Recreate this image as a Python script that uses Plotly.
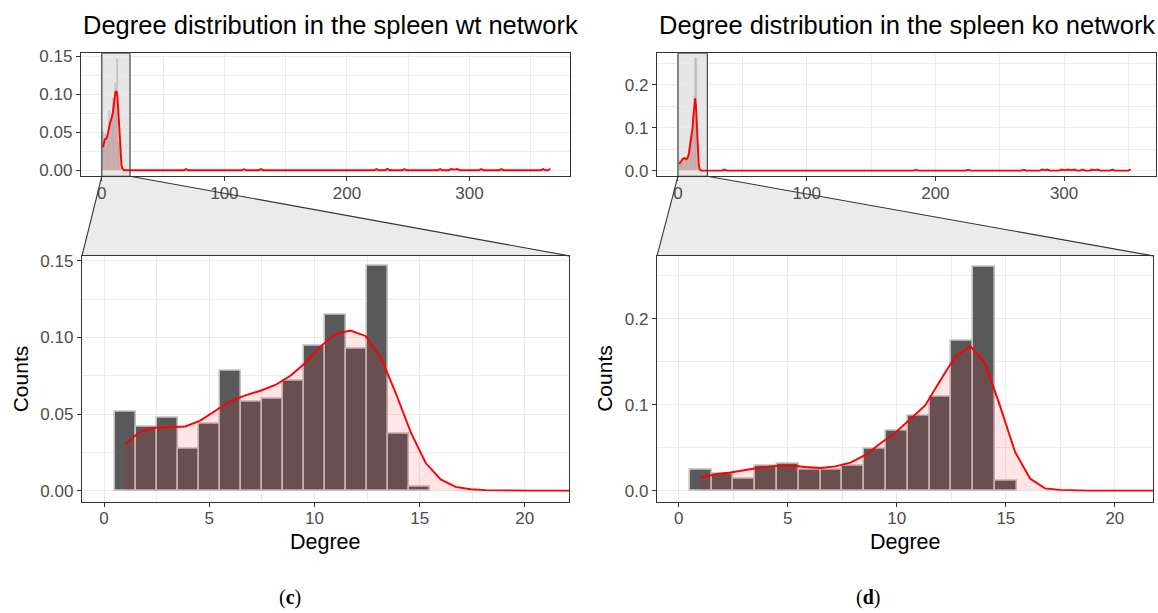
import plotly.graph_objects as go

W, H = 1158, 613

# ---------------- data ----------------
degree = list(range(1, 16))
wt_counts = [0.0515, 0.0415, 0.0474, 0.0270, 0.0434, 0.0780, 0.0579, 0.0596,
             0.0718, 0.0944, 0.1150, 0.0925, 0.1466, 0.0368, 0.0024]
ko_counts = [0.0244, 0.0190, 0.0141, 0.0286, 0.0313, 0.0237, 0.0237, 0.0286,
             0.0490, 0.0695, 0.0866, 0.1088, 0.1737, 0.2603, 0.0115]

wt_dens_x = [1.00, 1.71, 2.43, 3.14, 3.86, 4.57, 5.29, 6.00, 6.71, 7.43, 8.14, 8.86,
             9.57, 10.29, 11.00, 11.71, 12.43, 13.14, 13.86, 14.57, 15.29, 16.00,
             16.71, 17.43, 18.14, 18.86, 19.57, 20.29, 21.00, 21.71, 22.43]
wt_dens_y = [0.0303, 0.0385, 0.0410, 0.0413, 0.0419, 0.0457, 0.0520, 0.0585, 0.0622,
             0.0652, 0.0690, 0.0750, 0.0835, 0.0942, 0.1024, 0.1045, 0.1010, 0.0874,
             0.0639, 0.0383, 0.0180, 0.0073, 0.0024, 0.0009, 0.0003, 0.0001, 0.0,
             0.0, 0.0, 0.0, 0.0]
wt_tail_x = [66.7, 68.7, 70.7, 114, 116, 118, 127.7, 129.7, 131.7, 222, 224, 226,
             231, 233, 235, 245, 247, 249, 274, 276, 278, 283, 285, 287.5, 290, 292,
             307.5, 309.5, 311.5, 324, 326, 328, 358, 360, 362, 364, 366]
wt_tail_y = [0, 0.0016, 0, 0, 0.0014, 0, 0, 0.0016, 0, 0, 0.0016, 0,
             0, 0.0018, 0, 0, 0.0016, 0, 0, 0.0016, 0, 0, 0.0016, 0.0008, 0.0016, 0,
             0, 0.0016, 0, 0, 0.0016, 0, 0, 0.0016, 0, 0, 0.0020]

ko_dens_x = [1.00, 1.69, 2.37, 3.06, 3.75, 4.43, 5.12, 5.81, 6.50, 7.18, 7.87, 8.56,
             9.24, 9.93, 10.62, 11.30, 11.99, 12.68, 13.36, 14.05, 14.74, 15.43,
             16.11, 16.80, 17.49, 18.17, 18.86, 19.55, 20.24, 20.92, 21.61, 22.30]
ko_dens_y = [0.0152, 0.0190, 0.0210, 0.0240, 0.0268, 0.0288, 0.0292, 0.0275, 0.0263,
             0.0282, 0.0325, 0.0415, 0.0548, 0.0672, 0.0830, 0.0990, 0.1280, 0.1560,
             0.1683, 0.1480, 0.0980, 0.0446, 0.0141, 0.0026, 0.0008, 0.0002, 0.0,
             0.0, 0.0, 0.0, 0.0, 0.0]
ko_tail_x = [34, 36, 38, 183, 185, 187, 223.5, 225.5, 227.5, 266.6, 268.6, 270.6,
             281, 283, 285, 287, 289, 296, 298, 300.5, 303, 305.5, 308, 310,
             312.5, 314.5, 316.5, 319.7, 321.7, 323.7, 326, 328, 335.5, 337.5, 339.5,
             349.8, 351.8]
ko_tail_y = [0, 0.0025, 0, 0, 0.0022, 0, 0, 0.0022, 0, 0, 0.0022, 0,
             0, 0.0025, 0.0012, 0.0025, 0, 0, 0.0025, 0.0012, 0.0025, 0.0012, 0.0025, 0,
             0, 0.0025, 0, 0, 0.0025, 0.0012, 0.0025, 0, 0, 0.0025, 0,
             0, 0.0030]

titles = ["Degree distribution in the spleen wt network",
          "Degree distribution in the spleen ko network"]
top_x_ticks = [0, 100, 200, 300]
bottom_x_ticks = [0, 5, 10, 15, 20]
wt_y_ticks = [0.00, 0.05, 0.10, 0.15]
ko_y_ticks = [0.0, 0.1, 0.2]

# ---------------- layout geometry (pixels) ----------------
boxes = {
    "tl": (81, 570, 48, 173),
    "bl": (82, 569, 254, 504),
    "tr": (657, 1156, 48, 173),
    "br": (657, 1153, 254, 504),
}
ranges_x = {"tl": [-17, 382], "bl": [-1.05, 22.1], "tr": [-16.3, 371.4], "br": [-1.0, 21.75]}
ranges_y = {"tl": [-0.0078, 0.154], "bl": [-0.0073, 0.1533],
            "tr": [-0.013, 0.273], "br": [-0.013, 0.273]}
zoom_x = {"tl": [0, 23], "tr": [0, 22.8]}


def xdom(b):
    l, r, t, bo = boxes[b]
    return [l / W, r / W]


def ydom(b):
    l, r, t, bo = boxes[b]
    return [1 - bo / H, 1 - t / H]


def data_to_paper_x(b, v):
    d = xdom(b)
    rg = ranges_x[b]
    return d[0] + (v - rg[0]) / (rg[1] - rg[0]) * (d[1] - d[0])


FONT = "Liberation Sans, Arial, sans-serif"
BAR_FILL = "#595959"
BAR_LINE = "#c2c2c2"
DENS_FILL = "rgba(255,0,0,0.10)"
GRID = "#ebebeb"

fig = go.Figure()

panels = [
    ("tl", "x", "y", degree, wt_counts, wt_dens_x + wt_tail_x, wt_dens_y + wt_tail_y),
    ("bl", "x2", "y2", degree, wt_counts, wt_dens_x + wt_tail_x, wt_dens_y + wt_tail_y),
    ("tr", "x3", "y3", degree, ko_counts, ko_dens_x + ko_tail_x, ko_dens_y + ko_tail_y),
    ("br", "x4", "y4", degree, ko_counts, ko_dens_x + ko_tail_x, ko_dens_y + ko_tail_y),
]

for key, xa, ya, bx, by, dx, dy in panels:
    top = key in ("tl", "tr")
    fig.add_trace(go.Bar(
        x=bx, y=by, width=[1] * len(bx), xaxis=xa, yaxis=ya,
        marker=dict(color="#bdbdbd" if top else BAR_FILL,
                    line=dict(color=BAR_LINE, width=0.6 if top else 1.6)),
        showlegend=False, hoverinfo="skip"))
    fig.add_trace(go.Scatter(
        x=dx, y=dy, xaxis=xa, yaxis=ya, mode="lines", fill="tozeroy",
        fillcolor=DENS_FILL, line=dict(color="#ff0000", width=1.9),
        showlegend=False, hoverinfo="skip"))


def axis(key, tickvals, fmt, minor_dtick, is_x, anchor):
    d = xdom(key) if is_x else ydom(key)
    rg = ranges_x[key] if is_x else ranges_y[key]
    ax = dict(
        domain=d, range=rg, autorange=False, anchor=anchor,
        showline=True, mirror=True, linecolor="#333333", linewidth=1.3,
        ticks="outside", ticklen=4, tickwidth=1.1, tickcolor="#333333",
        tickvals=tickvals, tickformat=fmt,
        showgrid=True, gridcolor=GRID, gridwidth=1.3, zeroline=False,
        tickfont=dict(family=FONT, size=17, color="#4d4d4d"),
        minor=dict(showgrid=True, gridcolor=GRID, gridwidth=0.7,
                   dtick=minor_dtick, tick0=0, ticks=""),
        fixedrange=True,
    )
    if is_x:
        ax["ticklabelstandoff"] = -3
    return ax


fig.update_layout(
    width=W, height=H, autosize=False,
    margin=dict(l=0, r=0, t=0, b=0),
    paper_bgcolor="white", plot_bgcolor="white",
    barmode="overlay", bargap=0,
    xaxis=axis("tl", top_x_ticks, "d", 50, True, "y"),
    yaxis=axis("tl", wt_y_ticks, ".2f", 0.025, False, "x"),
    xaxis2=axis("bl", bottom_x_ticks, "d", 2.5, True, "y2"),
    yaxis2=axis("bl", wt_y_ticks, ".2f", 0.025, False, "x2"),
    xaxis3=axis("tr", top_x_ticks, "d", 50, True, "y3"),
    yaxis3=axis("tr", ko_y_ticks, ".1f", 0.05, False, "x3"),
    xaxis4=axis("br", bottom_x_ticks, "d", 2.5, True, "y4"),
    yaxis4=axis("br", ko_y_ticks, ".1f", 0.05, False, "x4"),
)

shapes = []
for top_key, bot_key, xa, ya in [("tl", "bl", "x", "y"), ("tr", "br", "x3", "y3")]:
    z0, z1 = zoom_x[top_key]
    yr = ranges_y[top_key]
    shapes.append(dict(type="rect", xref=xa, yref=ya, x0=z0, x1=z1, y0=yr[0], y1=yr[1],
                       fillcolor="#e6e6e6", line=dict(width=0), layer="below"))
    shapes.append(dict(type="rect", xref=xa, yref=ya, x0=z0, x1=z1, y0=yr[0], y1=yr[1],
                       fillcolor="rgba(0,0,0,0)", line=dict(color="#333333", width=1.1),
                       layer="above"))
    px0 = data_to_paper_x(top_key, z0)
    px1 = data_to_paper_x(top_key, z1)
    ytop = ydom(top_key)[0]
    bx0, bx1 = xdom(bot_key)
    ybot = ydom(bot_key)[1]
    path = f"M {px0},{ytop} L {px1},{ytop} L {bx1},{ybot} L {bx0},{ybot} Z"
    shapes.append(dict(type="path", xref="paper", yref="paper", path=path,
                       fillcolor="#ebebeb", line=dict(width=0), layer="below"))
    shapes.append(dict(type="line", xref="paper", yref="paper", x0=px0, y0=ytop,
                       x1=bx0, y1=ybot, line=dict(color="#333333", width=1.1), layer="above"))
    shapes.append(dict(type="line", xref="paper", yref="paper", x0=px1, y0=ytop,
                       x1=bx1, y1=ybot, line=dict(color="#333333", width=1.1), layer="above"))
fig.update_layout(shapes=shapes)

ann = []
for key, t in [("tl", titles[0]), ("tr", titles[1])]:
    ann.append(dict(text=t, x=boxes[key][0] / W, y=1 - 19 / H, xref="paper", yref="paper",
                    xanchor="left", yanchor="middle", showarrow=False,
                    font=dict(family=FONT, size=25.5, color="black")))
for key, cx in [("bl", 20.5), ("br", 605)]:
    l, r, t, b = boxes[key]
    ann.append(dict(text="Counts", x=cx / W, y=1 - ((t + b) / 2) / H, xref="paper",
                    yref="paper", xanchor="center", yanchor="middle", textangle=-90,
                    showarrow=False, font=dict(family=FONT, size=21, color="black")))
    ann.append(dict(text="Degree", x=((l + r) / 2) / W, y=1 - 545 / H, xref="paper",
                    yref="paper", xanchor="center", yanchor="middle", showarrow=False,
                    font=dict(family=FONT, size=21.5, color="black")))
for lab, cx in [("c", 290), ("d", 868)]:
    ann.append(dict(text=f"(<b>{lab}</b>)", x=cx / W, y=1 - 601 / H, xref="paper",
                    yref="paper", xanchor="center", yanchor="middle", showarrow=False,
                    font=dict(family="Liberation Serif, serif", size=20, color="black")))
fig.update_layout(annotations=ann)

fig.write_html("out.html")
